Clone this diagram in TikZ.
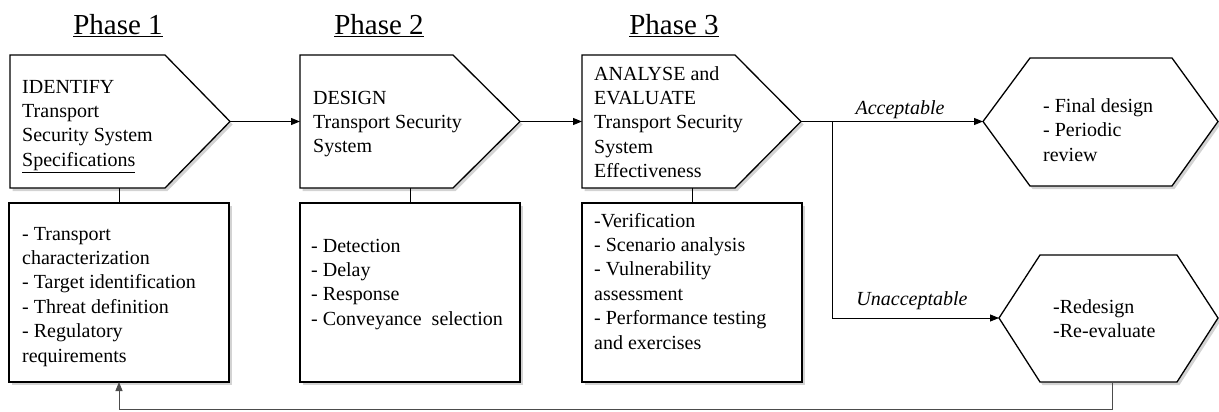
\documentclass[tikz,border=0pt]{standalone}
\usepackage{fontspec}
\setmainfont{Liberation Serif}
\usetikzlibrary{arrows.meta,shadows}
\tikzset{
  shp/.style={draw=black, line width=1.3pt, fill=white, line join=miter,
    drop shadow={opacity=0.35, shadow xshift=2.5pt, shadow yshift=-3pt}},
  txt/.style={font=\fontsize{20}{24.4}\selectfont, align=left, inner sep=0pt, anchor=base west},
  head/.style={font=\fontsize{29}{34}\selectfont, inner sep=0pt, anchor=base},
  lbl/.style={font=\fontsize{20}{24}\selectfont\itshape, inner sep=0pt, anchor=base},
  conn/.style={line width=0.8pt},
  arr/.style={conn, -{Triangle[length=9pt,width=7pt]}},
}
\begin{document}
\begin{tikzpicture}[x=1pt,y=-1pt]
\useasboundingbox (0,0) rectangle (1219,412);
% headings
\node[head] (h1) at (118,35) {\underline{Phase 1}};
\node[head] (h2) at (379,35) {\underline{Phase 2}};
\node[head] (h3) at (674,35) {\underline{Phase 3}};
% pentagons
\draw[shp] (10,55) -- (165,55) -- (230,121.5) -- (165,188) -- (10,188) -- cycle;
\draw[shp] (300,55) -- (453,55) -- (520,121.5) -- (453,188) -- (300,188) -- cycle;
\draw[shp] (582,55) -- (735,55) -- (801,121.5) -- (735,188) -- (582,188) -- cycle;
\coordinate (p1tip) at (230,121.5); \coordinate (p1bot) at (119,188);
\coordinate (p2in) at (300,121.5); \coordinate (p2tip) at (520,121.5); \coordinate (p2bot) at (410,188);
\coordinate (p3in) at (582,121.5); \coordinate (p3tip) at (801,121.5); \coordinate (p3bot) at (692,188);
% boxes
\draw[shp] (9,203) rectangle (229,382);
\draw[shp] (300,203) rectangle (520,382);
\draw[shp] (582,203) rectangle (802,382);
\coordinate (b1top) at (119,203); \coordinate (b1bot) at (119,382);
\coordinate (b2top) at (410,203);
\coordinate (b3top) at (692,203);
% hexagons
\draw[shp] (983,121.5) -- (1030,58) -- (1172,58) -- (1218,121.5) -- (1172,186) -- (1030,186) -- cycle;
\draw[shp] (999,318) -- (1040,255) -- (1177,255) -- (1218,318) -- (1177,382) -- (1040,382) -- cycle;
\coordinate (haIn) at (983,121.5);
\coordinate (huIn) at (999,318);
\coordinate (huBot) at (1112,382);
\coordinate (br) at (832,121.5);
% texts (anchor = baseline of the last line)
\node[txt] (t1) at (22,166.2) {IDENTIFY\\Transport\\Security System\\\underline{Specifications}};
\node[txt] (t2) at (313,152.8) {DESIGN\\Transport Security\\System};
\node[txt] (t3) at (594,177.6) {ANALYSE and\\EVALUATE\\Transport Security\\System\\Effectiveness};
\node[txt] (l1) at (22,362) {- Transport\\characterization\\- Target identification\\- Threat definition\\- Regulatory\\requirements};
\node[txt] (l2) at (311,325.2) {- Detection\\- Delay\\- Response\\- Conveyance~ selection};
\node[txt] (l3) at (594,349) {-Verification\\- Scenario analysis\\- Vulnerability\\assessment\\- Performance testing\\and exercises};
\node[txt] (ta) at (1043,161) {- Final design\\- Periodic\\review};
\node[txt] (tu) at (1053,337.4) {-Redesign\\-Re-evaluate};
\node[lbl] (acc) at (900,114) {Acceptable};
\node[lbl] (unacc) at (912,305) {Unacceptable};
% connectors
\draw[arr] (p1tip) -- (p2in);
\draw[arr] (p2tip) -- (p3in);
\draw[conn] (p1bot) -- (b1top);
\draw[conn] (p2bot) -- (b2top);
\draw[conn] (p3bot) -- (b3top);
\draw[arr] (p3tip) -- (haIn);
\draw[arr] (br) |- (huIn);
\draw[arr, draw=black!70] (huBot) -- (1112,409) -| (b1bot);
\end{tikzpicture}
\end{document}
